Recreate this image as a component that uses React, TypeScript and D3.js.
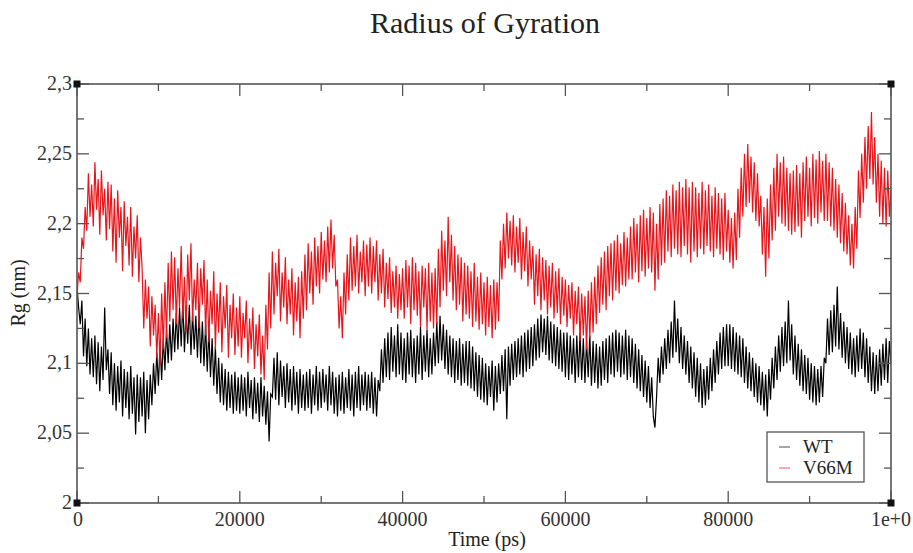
import React from "react";
import * as d3 from "d3";

// ---- Data (Rg in nm, sampled every 200 ps from 0 to 100000 ps) ----
const STEP_PS = 200;

const wt = [
  2.155, 2.140, 2.128, 2.145, 2.105, 2.132, 2.098, 2.125, 2.092, 2.118, 2.090, 2.120, 2.085, 2.115, 2.080, 2.112, 2.088, 2.140, 2.095, 2.110,
  2.078, 2.108, 2.070, 2.100, 2.066, 2.098, 2.072, 2.102, 2.062, 2.096, 2.068, 2.094, 2.060, 2.098, 2.064, 2.090, 2.049, 2.092, 2.058, 2.090,
  2.062, 2.094, 2.050, 2.088, 2.060, 2.092, 2.070, 2.100, 2.078, 2.108, 2.084, 2.114, 2.088, 2.118, 2.095, 2.124, 2.100, 2.128, 2.102, 2.132,
  2.108, 2.136, 2.110, 2.140, 2.112, 2.145, 2.108, 2.138, 2.114, 2.142, 2.106, 2.136, 2.110, 2.134, 2.104, 2.138, 2.100, 2.130, 2.098, 2.128,
  2.094, 2.124, 2.090, 2.118, 2.084, 2.112, 2.078, 2.104, 2.072, 2.100, 2.070, 2.096, 2.066, 2.094, 2.068, 2.092, 2.064, 2.094, 2.066, 2.090,
  2.064, 2.092, 2.066, 2.090, 2.062, 2.094, 2.068, 2.088, 2.060, 2.090, 2.064, 2.086, 2.058, 2.090, 2.062, 2.084, 2.056, 2.080, 2.044, 2.078,
  2.076, 2.104, 2.074, 2.108, 2.070, 2.102, 2.076, 2.098, 2.068, 2.100, 2.072, 2.096, 2.066, 2.098, 2.070, 2.094, 2.064, 2.096, 2.068, 2.092,
  2.066, 2.094, 2.068, 2.096, 2.064, 2.092, 2.070, 2.098, 2.066, 2.094, 2.068, 2.096, 2.072, 2.092, 2.066, 2.098, 2.070, 2.094, 2.064, 2.090,
  2.062, 2.092, 2.066, 2.094, 2.064, 2.090, 2.068, 2.096, 2.066, 2.092, 2.062, 2.094, 2.068, 2.098, 2.066, 2.092, 2.070, 2.094, 2.066, 2.092,
  2.068, 2.094, 2.064, 2.090, 2.062, 2.088, 2.080, 2.110, 2.086, 2.118, 2.090, 2.122, 2.088, 2.126, 2.094, 2.120, 2.090, 2.128, 2.092, 2.122,
  2.088, 2.118, 2.086, 2.122, 2.092, 2.124, 2.090, 2.118, 2.086, 2.120, 2.092, 2.126, 2.088, 2.120, 2.094, 2.124, 2.090, 2.118, 2.092, 2.122,
  2.098, 2.130, 2.100, 2.134, 2.102, 2.128, 2.096, 2.124, 2.092, 2.120, 2.090, 2.118, 2.086, 2.116, 2.088, 2.118, 2.084, 2.114, 2.086, 2.116,
  2.084, 2.116, 2.082, 2.112, 2.080, 2.108, 2.076, 2.106, 2.074, 2.104, 2.072, 2.100, 2.070, 2.098, 2.076, 2.102, 2.066, 2.098, 2.072, 2.100,
  2.078, 2.106, 2.080, 2.110, 2.060, 2.112, 2.084, 2.114, 2.088, 2.116, 2.090, 2.118, 2.092, 2.120, 2.090, 2.122, 2.094, 2.124, 2.096, 2.126,
  2.098, 2.128, 2.102, 2.132, 2.104, 2.135, 2.108, 2.132, 2.106, 2.134, 2.102, 2.130, 2.100, 2.128, 2.098, 2.126, 2.096, 2.124, 2.094, 2.122,
  2.090, 2.122, 2.088, 2.120, 2.092, 2.118, 2.086, 2.120, 2.090, 2.122, 2.088, 2.118, 2.086, 2.116, 2.090, 2.120, 2.084, 2.116, 2.086, 2.114,
  2.082, 2.112, 2.084, 2.116, 2.088, 2.118, 2.086, 2.120, 2.092, 2.122, 2.090, 2.124, 2.094, 2.122, 2.090, 2.120, 2.092, 2.124, 2.088, 2.120,
  2.090, 2.118, 2.086, 2.114, 2.082, 2.110, 2.080, 2.106, 2.076, 2.102, 2.072, 2.098, 2.068, 2.090, 2.062, 2.054, 2.076, 2.104, 2.086, 2.112,
  2.092, 2.118, 2.096, 2.124, 2.100, 2.130, 2.104, 2.145, 2.108, 2.132, 2.100, 2.126, 2.096, 2.120, 2.092, 2.116, 2.086, 2.112, 2.082, 2.108,
  2.076, 2.104, 2.072, 2.100, 2.068, 2.096, 2.070, 2.098, 2.074, 2.104, 2.080, 2.110, 2.086, 2.116, 2.092, 2.122, 2.096, 2.126, 2.098, 2.128,
  2.098, 2.128, 2.096, 2.126, 2.094, 2.122, 2.092, 2.120, 2.090, 2.118, 2.086, 2.112, 2.082, 2.108, 2.080, 2.104, 2.076, 2.100, 2.072, 2.098,
  2.070, 2.094, 2.066, 2.092, 2.062, 2.096, 2.074, 2.104, 2.082, 2.112, 2.088, 2.120, 2.094, 2.126, 2.098, 2.130, 2.100, 2.145, 2.102, 2.128,
  2.092, 2.120, 2.088, 2.114, 2.084, 2.110, 2.080, 2.106, 2.078, 2.104, 2.074, 2.100, 2.072, 2.098, 2.070, 2.096, 2.072, 2.098, 2.076, 2.104,
  2.100, 2.132, 2.106, 2.138, 2.108, 2.142, 2.112, 2.155, 2.110, 2.136, 2.104, 2.130, 2.100, 2.126, 2.096, 2.122, 2.092, 2.118, 2.090, 2.120,
  2.094, 2.125, 2.096, 2.122, 2.090, 2.118, 2.086, 2.112, 2.080, 2.108, 2.078, 2.106, 2.080, 2.110, 2.084, 2.114, 2.088, 2.118, 2.086, 2.116,
  2.100,
];

const v66m = [
  2.148, 2.165, 2.158, 2.190, 2.182, 2.212, 2.195, 2.236, 2.205, 2.228, 2.198, 2.244, 2.210, 2.232, 2.192, 2.238, 2.206, 2.225, 2.188, 2.230,
  2.196, 2.228, 2.180, 2.218, 2.172, 2.224, 2.190, 2.212, 2.166, 2.216, 2.184, 2.205, 2.170, 2.212, 2.162, 2.198, 2.175, 2.206, 2.158, 2.190,
  2.168, 2.125, 2.160, 2.132, 2.155, 2.112, 2.148, 2.120, 2.142, 2.104, 2.136, 2.098, 2.150, 2.110, 2.158, 2.118, 2.172, 2.130, 2.180, 2.138,
  2.176, 2.128, 2.168, 2.140, 2.184, 2.132, 2.162, 2.122, 2.178, 2.145, 2.186, 2.130, 2.160, 2.138, 2.172, 2.125, 2.168, 2.142, 2.174, 2.120,
  2.160, 2.115, 2.152, 2.128, 2.166, 2.110, 2.150, 2.122, 2.158, 2.108, 2.148, 2.125, 2.156, 2.104, 2.142, 2.118, 2.150, 2.106, 2.140, 2.112,
  2.148, 2.104, 2.136, 2.118, 2.145, 2.100, 2.132, 2.110, 2.140, 2.096, 2.128, 2.105, 2.135, 2.092, 2.120, 2.088, 2.142, 2.110, 2.165, 2.125,
  2.180, 2.135, 2.172, 2.148, 2.182, 2.130, 2.165, 2.140, 2.176, 2.128, 2.160, 2.135, 2.168, 2.120, 2.158, 2.130, 2.162, 2.118, 2.166, 2.132,
  2.178, 2.138, 2.186, 2.150, 2.180, 2.142, 2.190, 2.155, 2.184, 2.150, 2.194, 2.160, 2.188, 2.158, 2.198, 2.165, 2.203, 2.168, 2.192, 2.155,
  2.160, 2.125, 2.148, 2.118, 2.165, 2.135, 2.178, 2.145, 2.190, 2.152, 2.184, 2.155, 2.192, 2.150, 2.180, 2.158, 2.188, 2.148, 2.185, 2.155,
  2.190, 2.150, 2.184, 2.158, 2.188, 2.145, 2.178, 2.150, 2.182, 2.140, 2.172, 2.146, 2.176, 2.136, 2.166, 2.140, 2.170, 2.132, 2.164, 2.138,
  2.168, 2.132, 2.174, 2.140, 2.170, 2.128, 2.176, 2.138, 2.172, 2.134, 2.166, 2.126, 2.170, 2.140, 2.168, 2.124, 2.172, 2.130, 2.165, 2.125,
  2.168, 2.128, 2.182, 2.140, 2.195, 2.152, 2.188, 2.148, 2.205, 2.158, 2.192, 2.145, 2.184, 2.138, 2.178, 2.142, 2.176, 2.130, 2.172, 2.135,
  2.170, 2.132, 2.166, 2.126, 2.172, 2.130, 2.162, 2.124, 2.165, 2.128, 2.158, 2.120, 2.162, 2.126, 2.156, 2.118, 2.160, 2.124, 2.158, 2.130,
  2.188, 2.160, 2.200, 2.168, 2.208, 2.175, 2.202, 2.170, 2.206, 2.165, 2.198, 2.172, 2.204, 2.160, 2.194, 2.166, 2.198, 2.155, 2.188, 2.160,
  2.184, 2.142, 2.178, 2.148, 2.182, 2.138, 2.176, 2.145, 2.174, 2.135, 2.170, 2.140, 2.172, 2.132, 2.166, 2.136, 2.168, 2.128, 2.162, 2.134,
  2.160, 2.126, 2.156, 2.132, 2.158, 2.120, 2.152, 2.128, 2.155, 2.116, 2.150, 2.120, 2.148, 2.110, 2.152, 2.118, 2.158, 2.122, 2.162, 2.128,
  2.170, 2.136, 2.176, 2.142, 2.180, 2.138, 2.184, 2.148, 2.186, 2.145, 2.188, 2.152, 2.192, 2.150, 2.186, 2.156, 2.194, 2.155, 2.190, 2.160,
  2.198, 2.160, 2.204, 2.165, 2.200, 2.158, 2.206, 2.166, 2.210, 2.162, 2.204, 2.168, 2.212, 2.165, 2.208, 2.152, 2.200, 2.160, 2.214, 2.170,
  2.218, 2.172, 2.224, 2.180, 2.220, 2.176, 2.228, 2.182, 2.224, 2.178, 2.230, 2.176, 2.226, 2.184, 2.232, 2.178, 2.226, 2.172, 2.230, 2.180,
  2.226, 2.176, 2.222, 2.182, 2.230, 2.178, 2.224, 2.184, 2.228, 2.180, 2.220, 2.176, 2.226, 2.182, 2.222, 2.178, 2.218, 2.174, 2.222, 2.180,
  2.210, 2.172, 2.204, 2.168, 2.208, 2.174, 2.225, 2.190, 2.240, 2.205, 2.250, 2.212, 2.257, 2.215, 2.248, 2.208, 2.244, 2.202, 2.236, 2.198,
  2.220, 2.178, 2.212, 2.162, 2.218, 2.175, 2.228, 2.188, 2.240, 2.195, 2.250, 2.205, 2.244, 2.200, 2.248, 2.198, 2.240, 2.195, 2.236, 2.192,
  2.238, 2.194, 2.242, 2.198, 2.236, 2.190, 2.244, 2.202, 2.248, 2.205, 2.240, 2.198, 2.250, 2.204, 2.246, 2.200, 2.252, 2.208, 2.245, 2.202,
  2.250, 2.202, 2.244, 2.198, 2.240, 2.195, 2.232, 2.190, 2.228, 2.186, 2.222, 2.180, 2.215, 2.178, 2.206, 2.170, 2.200, 2.168, 2.212, 2.182,
  2.238, 2.204, 2.250, 2.215, 2.262, 2.225, 2.270, 2.232, 2.280, 2.228, 2.262, 2.215, 2.250, 2.205, 2.245, 2.200, 2.240, 2.198, 2.238, 2.205,
  2.225,
];

const seriesNames = ["WT", "V66M"];
const seriesColors = ["#000000", "#e8161b"];

const xMajorTicks = [0, 20000, 40000, 60000, 80000, 100000];
const xTickLabels = ["0", "20000", "40000", "60000", "80000", "1e+0"];
const xMinorTicks = [10000, 30000, 50000, 70000, 90000];
const yMajorTicks = [2, 2.05, 2.1, 2.15, 2.2, 2.25, 2.3];
const yTickLabels = ["2", "2,05", "2,1", "2,15", "2,2", "2,25", "2,3"];
const yMinorTicks = [2.025, 2.075, 2.125, 2.175, 2.225, 2.275];

const W = 913;
const H = 553;
const L = 77, R = 891, T = 84, B = 503;
const FONT = "'Liberation Serif', 'Times New Roman', serif";
const AXIS = "#555";

export default function App() {
  const x = d3.scaleLinear().domain([0, 100000]).range([L, R]);
  const y = d3.scaleLinear().domain([2, 2.3]).range([B, T]);
  const line = d3
    .line<number>()
    .x((_, i) => x(i * STEP_PS))
    .y((d) => y(d));

  const all = [wt, v66m];
  const MAJ = 12, MIN = 7;

  return (
    <svg
      width={W}
      height={H}
      style={{ position: "absolute", left: 0, top: 0, display: "block", background: "#fff" }}
    >
      <rect x={0} y={0} width={W} height={H} fill="#fff" />
      <text x={485} y={33} textAnchor="middle" fontFamily={FONT} fontSize={30} fill="#222">
        Radius of Gyration
      </text>

      <defs>
        <clipPath id="clip">
          <rect x={L} y={T} width={R - L} height={B - T} />
        </clipPath>
      </defs>

      {/* data */}
      <g clipPath="url(#clip)">
        {all.map((s, i) => (
          <path key={i} d={line(s) || ""} fill="none" stroke={seriesColors[i]} strokeWidth={1.2} strokeLinejoin="miter" />
        ))}
      </g>

      {/* frame */}
      <rect x={L} y={T} width={R - L} height={B - T} fill="none" stroke={AXIS} strokeWidth={1.6} />

      {/* ticks */}
      {xMajorTicks.map((t) => (
        <g key={"xM" + t} stroke={AXIS} strokeWidth={1.3}>
          <line x1={x(t)} x2={x(t)} y1={B} y2={B - MAJ} />
          <line x1={x(t)} x2={x(t)} y1={T} y2={T + MAJ} />
        </g>
      ))}
      {xMinorTicks.map((t) => (
        <g key={"xm" + t} stroke={AXIS} strokeWidth={1.3}>
          <line x1={x(t)} x2={x(t)} y1={B} y2={B - MIN} />
          <line x1={x(t)} x2={x(t)} y1={T} y2={T + MIN} />
        </g>
      ))}
      {yMajorTicks.map((v) => (
        <g key={"yM" + v} stroke={AXIS} strokeWidth={1.3}>
          <line x1={L} x2={L + MAJ} y1={y(v)} y2={y(v)} />
          <line x1={R} x2={R - MAJ} y1={y(v)} y2={y(v)} />
        </g>
      ))}
      {yMinorTicks.map((v) => (
        <g key={"ym" + v} stroke={AXIS} strokeWidth={1.3}>
          <line x1={L} x2={L + MIN} y1={y(v)} y2={y(v)} />
          <line x1={R} x2={R - MIN} y1={y(v)} y2={y(v)} />
        </g>
      ))}

      {/* corner squares */}
      {[[L, T], [R, T], [L, B], [R, B]].map(([cx, cy], i) => (
        <rect key={"c" + i} x={cx - 3.5} y={cy - 3.5} width={7} height={7} fill="#111" />
      ))}

      {/* tick labels */}
      {xMajorTicks.map((t, i) => (
        <text key={"xl" + t} x={x(t) + (i === 0 ? 1 : 0)} y={526} textAnchor="middle" fontFamily={FONT} fontSize={20} fill="#333">
          {xTickLabels[i]}
        </text>
      ))}
      {yMajorTicks.map((v, i) => (
        <text key={"yl" + v} x={72} y={y(v) + 6} textAnchor="end" fontFamily={FONT} fontSize={20} fill="#333">
          {yTickLabels[i]}
        </text>
      ))}

      {/* axis titles */}
      <text x={487} y={546} textAnchor="middle" fontFamily={FONT} fontSize={20} fill="#222">
        Time (ps)
      </text>
      <text
        transform="translate(25,293) rotate(-90)"
        textAnchor="middle"
        fontFamily={FONT}
        fontSize={20}
        fill="#222"
      >
        Rg (nm)
      </text>

      {/* legend */}
      <rect x={767} y={432} width={97} height={50} fill="#fff" stroke={AXIS} strokeWidth={1.3} />
      {seriesNames.map((n, i) => (
        <g key={n}>
          <line x1={779} x2={790} y1={447 + i * 21} y2={447 + i * 21} stroke={seriesColors[i]} strokeWidth={1} opacity={0.7} />
          <text x={803} y={453 + i * 21} fontFamily={FONT} fontSize={19} fill="#222">
            {n}
          </text>
        </g>
      ))}
    </svg>
  );
}
